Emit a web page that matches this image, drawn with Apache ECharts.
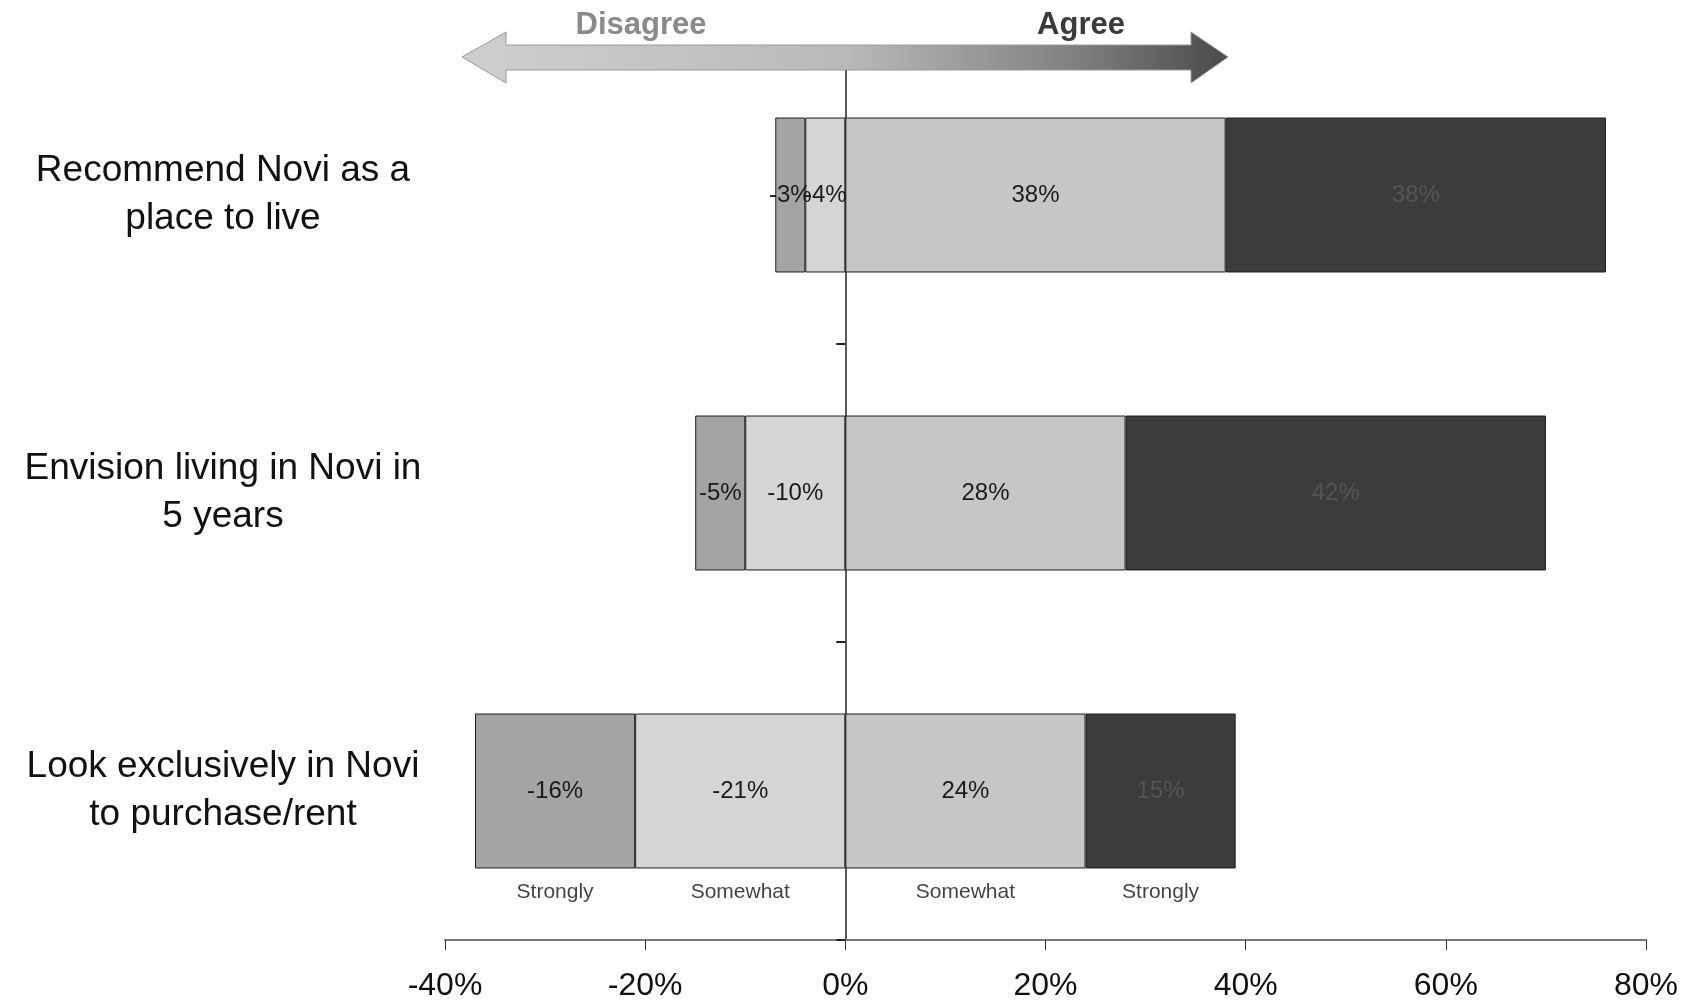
<!DOCTYPE html>
<html>
<head>
<meta charset="utf-8">
<title>Novi survey – agree / disagree</title>
<script src="https://cdn.jsdelivr.net/npm/echarts@6/dist/echarts.min.js"></script>
<style>
  html, body { margin: 0; padding: 0; background: #ffffff; }
  #chart { width: 1692px; height: 1004px; }
</style>
</head>
<body>
<div id="chart"></div>
<script>
// Survey statements (top to bottom)
const categories = [
  'Recommend Novi as a\nplace to live',
  'Envision living in Novi in\n5 years',
  'Look exclusively in Novi\nto purchase/rent'
];

// Shares of respondents, in percent (disagree shares are negative)
const somewhatDisagree = [-4, -10, -21];
const stronglyDisagree = [-3, -5, -16];
const somewhatAgree    = [38, 28, 24];
const stronglyAgree    = [38, 42, 15];

// Scale names written under the last bar, left to right
const scaleLabels = ['Strongly', 'Somewhat', 'Somewhat', 'Strongly'];

// Value axis ticks
const xMin = -40, xMax = 80, xStep = 20;

const chart = echarts.init(document.getElementById('chart'), null, { renderer: 'canvas' });
const FONT = '"Liberation Sans", Arial, sans-serif';

function segLabel(color) {
  return {
    show: true,
    position: 'inside',
    fontFamily: FONT,
    fontSize: 24,
    color: color,
    formatter: p => p.value + '%'
  };
}

function barSeries(name, data, color, labelColor) {
  return {
    name: name,
    type: 'bar',
    stack: 'total',
    yAxisIndex: 0,
    data: data,
    barWidth: '52%',
    itemStyle: { color: color, borderColor: '#1e1e1e', borderWidth: 1 },
    label: segLabel(labelColor),
    emphasis: { disabled: true },
    z: 3
  };
}

// Centres of the segments of the last bar, for the scale names
const last = categories.length - 1;
const scalePoints = [
  { value: [somewhatDisagree[last] + stronglyDisagree[last] / 2, categories[last]], name: scaleLabels[0] },
  { value: [somewhatDisagree[last] / 2, categories[last]], name: scaleLabels[1] },
  { value: [somewhatAgree[last] / 2, categories[last]], name: scaleLabels[2] },
  { value: [somewhatAgree[last] + stronglyAgree[last] / 2, categories[last]], name: scaleLabels[3] }
];

const option = {
  backgroundColor: '#ffffff',
  animation: false,
  grid: { left: 445, right: 46, top: 46, bottom: 64, containLabel: false },
  xAxis: {
    type: 'value',
    min: xMin,
    max: xMax,
    interval: xStep,
    splitLine: { show: false },
    axisLine: { show: true, onZero: false, lineStyle: { color: '#7a7a7a', width: 2 } },
    axisTick: { show: true, length: 10, lineStyle: { color: '#333', width: 1 } },
    axisLabel: {
      margin: 30,
      fontFamily: FONT,
      fontSize: 32,
      color: '#111',
      formatter: v => v + '%'
    }
  },
  yAxis: [
    {
      // zero line with small boundary ticks
      type: 'category',
      data: categories,
      inverse: true,
      axisLine: { show: true, onZero: true, lineStyle: { color: '#222', width: 1.5 } },
      axisTick: { show: true, length: 9, lineStyle: { color: '#222', width: 2 } },
      axisLabel: { show: false }
    },
    {
      // statement labels on the left
      type: 'category',
      data: categories,
      inverse: true,
      position: 'left',
      axisLine: { show: false, onZero: false },
      axisTick: { show: false },
      axisLabel: {
        margin: 222,
        align: 'center',
        fontFamily: FONT,
        fontSize: 37,
        lineHeight: 48,
        padding: [10, 0, 0, 0],
        color: '#111'
      }
    }
  ],
  series: [
    barSeries('Somewhat disagree', somewhatDisagree, '#d5d5d5', '#1a1a1a'),
    barSeries('Strongly disagree', stronglyDisagree, '#a4a4a4', '#1a1a1a'),
    barSeries('Somewhat agree', somewhatAgree, '#c6c6c6', '#1a1a1a'),
    barSeries('Strongly agree', stronglyAgree, '#3c3c3c', '#555555'),
    {
      name: 'Scale',
      type: 'scatter',
      yAxisIndex: 0,
      data: scalePoints,
      symbolSize: 0,
      silent: true,
      label: {
        show: true,
        position: 'inside',
        offset: [0, 101],
        fontFamily: FONT,
        fontSize: 21,
        color: '#111',
        formatter: p => p.name
      },
      z: 4
    }
  ],
  graphic: [
    {
      type: 'polygon',
      z: 10,
      shape: {
        points: [
          [462, 57], [506, 32], [506, 45], [1191, 45], [1191, 32],
          [1228, 57], [1191, 83], [1191, 70], [506, 70], [506, 83]
        ]
      },
      style: {
        fill: new echarts.graphic.LinearGradient(0, 0, 1, 0, [
          { offset: 0, color: '#cfcfcf' },
          { offset: 0.5, color: '#b9b9b9' },
          { offset: 0.8, color: '#808080' },
          { offset: 1, color: '#4a4a4a' }
        ]),
        stroke: '#9a9a9a',
        lineWidth: 1
      }
    },
    {
      type: 'text',
      z: 10,
      x: 641, y: 25,
      style: {
        text: 'Disagree',
        fontFamily: FONT, fontWeight: 'bold', fontSize: 31,
        fill: '#8a8a8a', align: 'center', verticalAlign: 'middle'
      }
    },
    {
      type: 'text',
      z: 10,
      x: 1081, y: 25,
      style: {
        text: 'Agree',
        fontFamily: FONT, fontWeight: 'bold', fontSize: 31,
        fill: '#3a3a3a', align: 'center', verticalAlign: 'middle'
      }
    }
  ]
};

chart.setOption(option);
</script>
</body>
</html>
